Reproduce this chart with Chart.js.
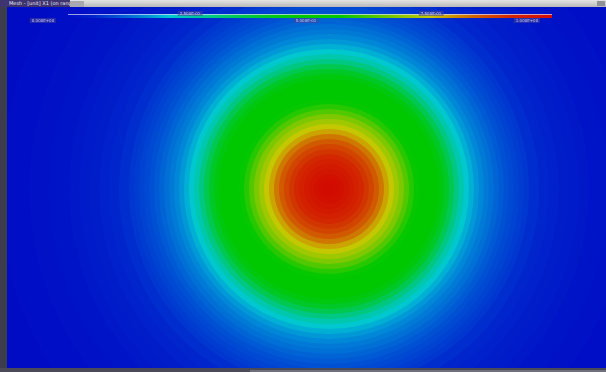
<!DOCTYPE html>
<html>
<head>
<meta charset="utf-8">
<script src="https://cdn.jsdelivr.net/npm/chart.js@4/dist/chart.umd.min.js"></script>
<style>
  html,body{margin:0;padding:0;}
  body{width:606px;height:372px;position:relative;overflow:hidden;background:#3c3c4c;font-family:"DejaVu Sans",sans-serif;}
  #topbar{position:absolute;left:0;top:0;width:606px;height:7px;background:linear-gradient(#e4e4e4,#b8b8b8);}
  #tab{position:absolute;left:0;top:0;width:70px;height:7px;background:#3d3470;color:#e8e8f4;font-size:5px;line-height:7px;padding-left:9px;box-sizing:border-box;white-space:nowrap;overflow:hidden;}
  #tab2{position:absolute;left:70px;top:1px;width:14px;height:6px;background:#a8a8b0;}
  #btn{position:absolute;left:597px;top:1px;width:8px;height:5px;background:#909098;}
  #wrap{position:absolute;left:7px;top:7px;width:599px;height:361px;}
  #bottom{position:absolute;left:0;top:368px;width:606px;height:4px;background:#4a4a58;}
  #bottom2{position:absolute;left:250px;top:370px;width:356px;height:2px;background:#70707c;}
  #cbar{position:absolute;left:68px;top:14px;width:484px;height:3px;border-top:1px solid rgba(220,220,255,0.7);}
  .lab{position:absolute;font-size:4px;line-height:5px;color:#c8c8f0;background:rgba(70,70,150,0.55);padding:0 2px;white-space:nowrap;transform:translateX(-50%);}
</style>
</head>
<body>
<div id="topbar"><div id="tab">Mesh - [unit] X1 (on range)</div><div id="tab2"></div><div id="btn"></div></div>
<div id="wrap"><canvas id="c" width="599" height="361"></canvas></div>
<div id="bottom"></div><div id="bottom2"></div>
<div id="cbar"></div>
<div id="labels"></div>
<script>
// radial profile of the field (radius in mesh units, field value 0..1)
const radii = [0.05,0.10,0.15,0.20,0.25,0.30,0.35,0.40,0.45,0.50,0.55,0.60,0.65,0.70,0.75,0.80,0.85,0.90,0.95,1.00,
               1.05,1.10,1.15,1.20,1.25,1.30,1.35,1.40,1.45,1.50,1.55,1.60,1.65,1.70,1.75,1.80,1.85,1.90,1.95,2.00,
               2.10,2.20,2.30,2.40,2.50,2.60,2.80,3.00,3.30,3.70];
const fieldValues = [0.998,0.99,0.98,0.965,0.95,0.93,0.915,0.895,0.875,0.85,0.82,0.78,0.745,0.71,0.675,0.635,0.595,0.565,0.545,0.525,
                     0.505,0.48,0.45,0.405,0.355,0.3,0.25,0.215,0.19,0.17,0.155,0.142,0.131,0.12,0.11,0.10,0.092,0.085,0.078,0.072,
                     0.062,0.052,0.045,0.038,0.032,0.027,0.018,0.011,0.005,0.001];
const center = [0, 0];
// colour legend
const legendStops = [0, 0.05, 0.10, 0.16, 0.21, 0.30, 0.40, 0.48, 0.56, 0.66, 0.75, 0.80, 0.86, 0.92, 1.0];
const legendColors = [[0,12,196],[0,35,204],[0,80,212],[0,140,215],[0,200,210],[0,200,130],[0,200,40],[0,200,0],[0,200,0],[110,200,0],[200,200,0],[205,140,0],[210,80,0],[210,35,0],[210,10,0]];
const tickLabelsTop = ["2.500E-01","7.500E-01"];
const tickLabelsBottom = ["0.000E+00","5.000E-01","1.000E+00"];

function colorAt(v){
  for(let i=1;i<legendStops.length;i++){
    if(v<=legendStops[i]){
      const t=(v-legendStops[i-1])/(legendStops[i]-legendStops[i-1]);
      const a=legendColors[i-1], b=legendColors[i];
      return 'rgb('+a.map((c,k)=>Math.round(c+(b[k]-c)*t)).join(',')+')';
    }
  }
  const l=legendColors[legendColors.length-1];
  return 'rgb('+l.join(',')+')';
}

// colour bar
document.getElementById('cbar').style.background='linear-gradient(to right,'+legendStops.map((s,i)=>colorAt(s)+' '+(s*100)+'%').join(',')+')';
const labels=document.getElementById('labels');
[[190,11],[431,11]].forEach((p,i)=>{const d=document.createElement('div');d.className='lab';d.style.left=p[0]+'px';d.style.top=p[1]+'px';d.textContent=tickLabelsTop[i];labels.appendChild(d);});
[[43,18],[306,18],[527,18]].forEach((p,i)=>{const d=document.createElement('div');d.className='lab';d.style.left=p[0]+'px';d.style.top=p[1]+'px';d.textContent=tickLabelsBottom[i];labels.appendChild(d);});

// bands: largest first
const order = radii.map((r,i)=>i).reverse();
const pts = order.map(i=>({x:center[0], y:center[1], rad:radii[i], val:fieldValues[i]}));

const bgPlugin={id:'bg',beforeDatasetsDraw(ch){const a=ch.chartArea,c=ch.ctx;c.save();c.fillStyle=colorAt(0);c.fillRect(a.left,a.top,a.right-a.left,a.bottom-a.top);c.restore();}};

new Chart(document.getElementById('c'),{
  type:'scatter',
  data:{datasets:[{
    data:pts,
    showLine:false,
    pointBackgroundColor:ctx=>(ctx.raw?colorAt(ctx.raw.val):'rgba(0,0,0,0)'),
    pointBorderWidth:0,
    pointRadius:ctx=>{if(!ctx.raw)return 0;const s=ctx.chart.scales.x;return Math.abs(s.getPixelForValue(ctx.raw.rad)-s.getPixelForValue(0));},
    clip:0
  }]},
  options:{
    responsive:false,animation:false,devicePixelRatio:1,events:[],
    layout:{padding:0},
    plugins:{legend:{display:false},tooltip:{enabled:false}},
    scales:{
      x:{type:'linear',min:-3.22,max:2.77,display:false},
      y:{type:'linear',min:-1.79,max:1.82,display:false}
    }
  },
  plugins:[bgPlugin]
});
</script>
</body>
</html>
